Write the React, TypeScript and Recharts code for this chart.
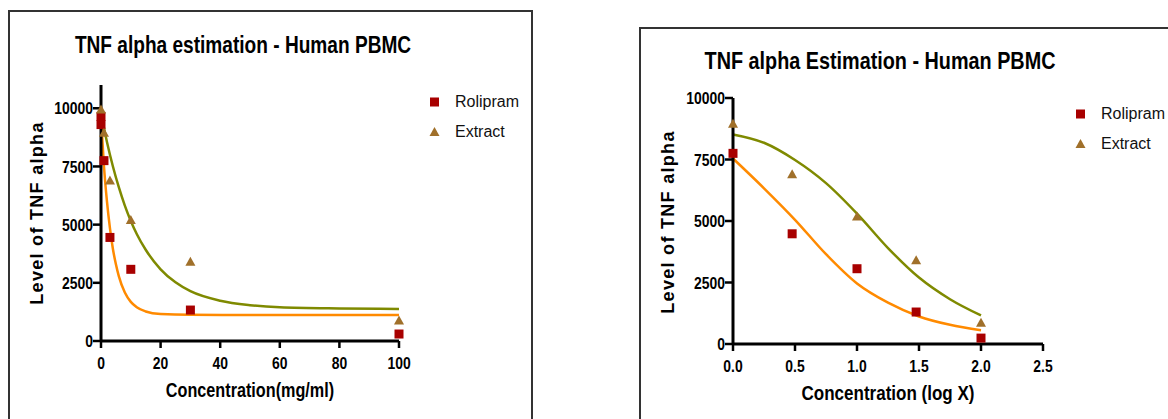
import React from "react";
import { ComposedChart, Line, Scatter, XAxis, YAxis } from "recharts";

// measured points
const leftRoliConc = [0, 0, 1, 3, 10, 30, 100];
const leftRoliLevel = [9650, 9300, 7750, 4450, 3080, 1330, 300];
const leftExtConc = [0, 1, 3, 10, 30, 100];
const leftExtLevel = [9950, 8950, 6900, 5200, 3400, 880];

const logConc = [0, 0.477, 1, 1.477, 2];
const rightRoliLevel = [7750, 4480, 3060, 1300, 240];
const rightExtLevel = [8950, 6900, 5180, 3400, 860];

// fitted curves
const leftRoliFitX = [0, 1, 2, 3, 4, 5, 6, 8, 10, 12, 15, 20, 30, 50, 100];
const leftRoliFitY = [9600, 7500, 6000, 4850, 3950, 3300, 2780, 2080, 1680, 1450, 1270, 1160, 1125, 1120, 1120];
const leftExtFitX = [0, 2, 4, 6, 8, 10, 12, 15, 20, 25, 30, 40, 50, 60, 80, 100];
const leftExtFitY = [9800, 8550, 7500, 6600, 5820, 5160, 4600, 3920, 3080, 2520, 2140, 1730, 1540, 1450, 1400, 1380];

const rightFitX = [0, 0.25, 0.5, 0.75, 1, 1.25, 1.5, 1.75, 2];
const rightRoliFitY = [7540, 6330, 5050, 3650, 2460, 1680, 1120, 780, 560];
const rightExtFitY = [8520, 8180, 7480, 6540, 5300, 3900, 2700, 1820, 1160];

const yTicks = [0, 2500, 5000, 7500, 10000];
const leftXTicks = [0, 20, 40, 60, 80, 100];
const rightXTicks = [0, 0.5, 1, 1.5, 2, 2.5];

const SQUARE = "#a80000";
const TRIANGLE = "#a0702a";
const ORANGE = "#ff8a00";
const OLIVE = "#7f8a00";
const SANS = '"Liberation Sans", Arial, sans-serif';

const pts = (xs: number[], ys: number[]) => xs.map((x, i) => ({ x, y: ys[i] }));

const Square = (p: any) => <rect x={p.cx - 4.5} y={p.cy - 4.5} width={9} height={9} fill={SQUARE} />;
const Triangle = (p: any) => (
  <polygon points={`${p.cx},${p.cy - 5} ${p.cx - 5},${p.cy + 4} ${p.cx + 5},${p.cy + 4}`} fill={TRIANGLE} />
);

// narrow bold tick text (no condensed font installed, so squeeze it)
const makeTick = (fmt: (v: number) => string, vertical: boolean) => (p: any) => (
  <text
    x={0}
    y={0}
    dy={vertical ? "0.355em" : "0.71em"}
    textAnchor={vertical ? "end" : "middle"}
    transform={`translate(${p.x},${p.y}) scale(0.82,1)`}
    fill="#000"
    fontSize={17}
    fontWeight="bold"
    fontFamily={SANS}
  >
    {fmt(p.payload.value)}
  </text>
);

function Panel(props: any) {
  const { margin, xDomain, xTicks, yDomain, roli, ext, roliFit, extFit, fmt } = props;
  return (
    <ComposedChart width={props.width} height={419} margin={margin}>
      <XAxis
        type="number"
        dataKey="x"
        domain={xDomain}
        ticks={xTicks}
        height={margin.xh}
        tick={makeTick(fmt, false)}
        tickSize={7}
        tickMargin={9}
        axisLine={{ stroke: "#000", strokeWidth: 3 }}
        tickLine={{ stroke: "#000", strokeWidth: 2.5 }}
      />
      <YAxis
        type="number"
        dataKey="y"
        domain={yDomain}
        ticks={yTicks}
        width={60}
        tick={makeTick((v) => String(v), true)}
        tickSize={8}
        tickMargin={0}
        axisLine={{ stroke: "#000", strokeWidth: 3 }}
        tickLine={{ stroke: "#000", strokeWidth: 2.5 }}
      />
      <Line data={extFit} dataKey="y" type="monotone" stroke={OLIVE} strokeWidth={2.5} dot={false} isAnimationActive={false} />
      <Line data={roliFit} dataKey="y" type="monotone" stroke={ORANGE} strokeWidth={2.5} dot={false} isAnimationActive={false} />
      <Scatter data={roli} dataKey="y" shape={Square} isAnimationActive={false} />
      <Scatter data={ext} dataKey="y" shape={Triangle} isAnimationActive={false} />
    </ComposedChart>
  );
}

function LegendBox({ left, top }: { left: number; top: number }) {
  const row = { display: "flex", alignItems: "center", height: 30 } as const;
  return (
    <div style={{ position: "absolute", left, top, fontFamily: SANS, fontSize: 16, color: "#111" }}>
      <div style={row}>
        <svg width={26} height={12}>
          <rect x={1} y={1.5} width={9} height={9} fill={SQUARE} />
        </svg>
        <span>Rolipram</span>
      </div>
      <div style={row}>
        <svg width={26} height={12}>
          <polygon points="5.5,1 0.5,10 10.5,10" fill={TRIANGLE} />
        </svg>
        <span>Extract</span>
      </div>
    </div>
  );
}

const label = (left: number, top: number, size: number, sx: number, rotate = false) => ({
  position: "absolute" as const,
  left,
  top,
  transform: `translate(-50%, -50%) ${rotate ? "rotate(-90deg)" : `scale(${sx}, 1)`}`,
  whiteSpace: "nowrap" as const,
  fontFamily: SANS,
  fontWeight: "bold" as const,
  fontSize: size,
  lineHeight: 1,
  letterSpacing: rotate ? 1.3 : 0,
});

export default function App() {
  return (
    <div style={{ position: "fixed", left: 0, top: 0, width: 1168, height: 419, overflow: "hidden", background: "#fff" }}>
      <div style={{ position: "absolute", left: 8, top: 10, width: 521, height: 420, border: "2px solid #333" }} />
      <div style={{ position: "absolute", left: 639, top: 27, width: 540, height: 420, border: "2px solid #333" }} />

      <div style={{ position: "absolute", left: 0, top: 0 }}>
        <Panel
          width={560}
          margin={{ top: 85, right: 161, left: 41, bottom: 0, xh: 78 }}
          xDomain={[0, 100]}
          xTicks={leftXTicks}
          yDomain={[0, 11000]}
          roli={pts(leftRoliConc, leftRoliLevel)}
          ext={pts(leftExtConc, leftExtLevel)}
          roliFit={pts(leftRoliFitX, leftRoliFitY)}
          extFit={pts(leftExtFitX, leftExtFitY)}
          fmt={(v: number) => String(v)}
        />
      </div>
      <div style={{ position: "absolute", left: 600, top: 0 }}>
        <Panel
          width={568}
          margin={{ top: 98, right: 125, left: 73, bottom: 0, xh: 75 }}
          xDomain={[0, 2.5]}
          xTicks={rightXTicks}
          yDomain={[0, 10000]}
          roli={pts(logConc, rightRoliLevel)}
          ext={pts(logConc, rightExtLevel)}
          roliFit={pts(rightFitX, rightRoliFitY)}
          extFit={pts(rightFitX, rightExtFitY)}
          fmt={(v: number) => v.toFixed(1)}
        />
      </div>

      <div style={label(243, 45, 23, 0.83)}>TNF alpha estimation - Human PBMC</div>
      <div style={label(880, 61, 24, 0.825)}>TNF alpha Estimation - Human PBMC</div>

      <div style={label(37, 213, 18, 1, true)}>Level of TNF alpha</div>
      <div style={label(668, 222, 18, 1, true)}>Level of TNF alpha</div>

      <div style={label(250, 390, 20, 0.81)}>Concentration(mg/ml)</div>
      <div style={label(888, 393, 20.5, 0.83)}>Concentration (log X)</div>

      <LegendBox left={429} top={87} />
      <LegendBox left={1075} top={99} />
    </div>
  );
}
